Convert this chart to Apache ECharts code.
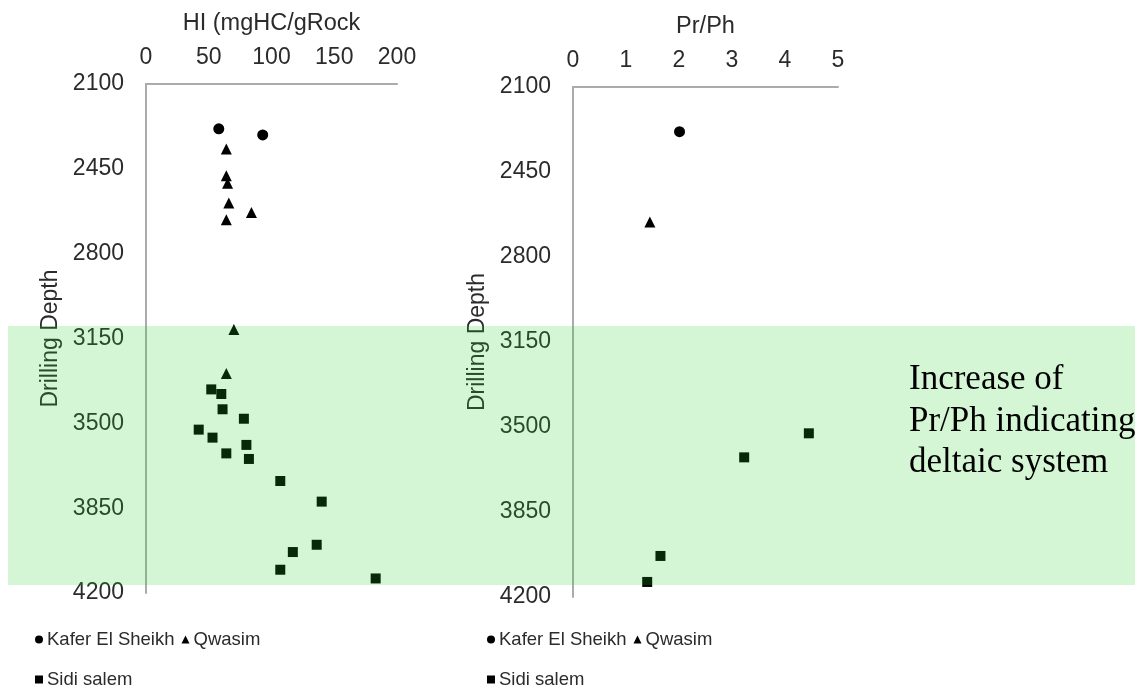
<!DOCTYPE html>
<html>
<head>
<meta charset="utf-8">
<script src="https://cdn.jsdelivr.net/npm/echarts@6/dist/echarts.min.js"></script>
<style>html,body{margin:0;padding:0;background:#fff;}#c{width:1135px;height:691px;}</style>
</head>
<body>
<div id="c"></div>
<script>
// ---- data ----
var depthTicks = [2100, 2450, 2800, 3150, 3500, 3850, 4200];
var hiTicks = [0, 50, 100, 150, 200];
var prTicks = [0, 1, 2, 3, 4, 5];
var seriesNames = ['Kafer El Sheikh', 'Qwasim', 'Sidi salem'];
// HI (mgHC/gRock) vs depth
var hiKafer = [[58, 2285], [93, 2310]];
var hiQwasim = [[64, 2368], [64, 2479], [65, 2509], [66, 2591], [84, 2630], [64, 2660], [70, 3113], [64, 3294]];
var hiSidi = [[52, 3360], [60, 3379], [61, 3442], [78, 3481], [42, 3526], [53, 3559], [80, 3589], [64, 3624], [82, 3647], [107, 3738], [140, 3823], [136, 4001], [117, 4031], [107, 4104], [183, 4140]];
// Pr/Ph vs depth
var prKafer = [[2.01, 2284]];
var prQwasim = [[1.45, 2656]];
var prSidi = [[4.45, 3526], [3.23, 3625], [1.65, 4031], [1.40, 4138]];
var noteLines = ['Increase of', 'Pr/Ph indicating', 'deltaic system'];

var chart = echarts.init(document.getElementById('c'));
var tickFont = {fontFamily: 'Liberation Sans, Arial, sans-serif', fontSize: 23, color: '#2b2b2b'};
var nameFont = {fontFamily: 'Liberation Sans, Arial, sans-serif', fontSize: 23.5, color: '#2b2b2b'};
var axisLineStyle = {show: true, lineStyle: {color: '#ababab', width: 2}};
function plain(v) { return String(v); }

function xAxisDef(idx, name, ticks) {
  return {
    gridIndex: idx, type: 'value', position: 'top',
    min: ticks[0], max: ticks[ticks.length - 1], interval: ticks[1] - ticks[0],
    name: name, nameLocation: 'middle', nameGap: 48,
    nameTextStyle: nameFont,
    axisLine: axisLineStyle, axisTick: {show: false}, splitLine: {show: false},
    axisLabel: Object.assign({margin: 15, formatter: plain}, tickFont)
  };
}
function yAxisDef(idx) {
  return {
    gridIndex: idx, type: 'value', inverse: true,
    min: depthTicks[0], max: depthTicks[depthTicks.length - 1], interval: depthTicks[1] - depthTicks[0],
    name: 'Drilling Depth', nameLocation: 'middle', nameGap: 84,
    nameTextStyle: {fontFamily: 'Liberation Sans, Arial, sans-serif', fontSize: 23, color: '#2b2b2b'},
    axisLine: axisLineStyle, axisTick: {show: false}, splitLine: {show: false},
    axisLabel: Object.assign({margin: 22, formatter: plain}, tickFont)
  };
}
var symbols = ['circle', 'triangle', 'rect'];
var sizes = [11, 11, 10];
function sc(name, xi, data) {
  var k = seriesNames.indexOf(name);
  return {type: 'scatter', name: name, xAxisIndex: xi, yAxisIndex: xi, data: data,
    symbol: symbols[k], symbolSize: sizes[k], itemStyle: {color: '#000', opacity: 1}};
}
function legendDef(left, top, names) {
  return {
    left: left, top: top, orient: 'horizontal', itemWidth: 8, itemHeight: 8, itemGap: 7,
    textStyle: {fontFamily: 'Liberation Sans, Arial, sans-serif', fontSize: 18.5, color: '#2b2b2b', padding: [0, 0, 0, -1]},
    data: names.map(function (n) { return {name: n, icon: symbols[seriesNames.indexOf(n)], itemStyle: {color: '#000'}}; })
  };
}
var graphics = [{
  type: 'rect', z: 100, silent: true,
  shape: {x: 8, y: 326, width: 1127, height: 259},
  style: {fill: 'rgba(41,209,41,0.196)'}
}];
var noteY = [383, 425, 466];
noteLines.forEach(function (t, i) {
  graphics.push({type: 'text', z: 110, left: 909, top: noteY[i] - 21,
    style: {text: t, fill: '#000', font: '35px "Liberation Serif", "Times New Roman", serif'}});
});

chart.setOption({
  animation: false,
  grid: [
    {left: 146, top: 84, width: 251, height: 509},
    {left: 573, top: 87, width: 265, height: 510}
  ],
  xAxis: [xAxisDef(0, 'HI (mgHC/gRock', hiTicks), xAxisDef(1, 'Pr/Ph', prTicks)],
  yAxis: [yAxisDef(0), yAxisDef(1)],
  legend: [
    legendDef(30, 625, ['Kafer El Sheikh', 'Qwasim']),
    legendDef(30, 665, ['Sidi salem']),
    legendDef(482, 625, ['Kafer El Sheikh', 'Qwasim']),
    legendDef(482, 665, ['Sidi salem'])
  ],
  graphic: graphics,
  series: [
    sc('Kafer El Sheikh', 0, hiKafer), sc('Qwasim', 0, hiQwasim), sc('Sidi salem', 0, hiSidi),
    sc('Kafer El Sheikh', 1, prKafer), sc('Qwasim', 1, prQwasim), sc('Sidi salem', 1, prSidi)
  ]
});
</script>
</body>
</html>
